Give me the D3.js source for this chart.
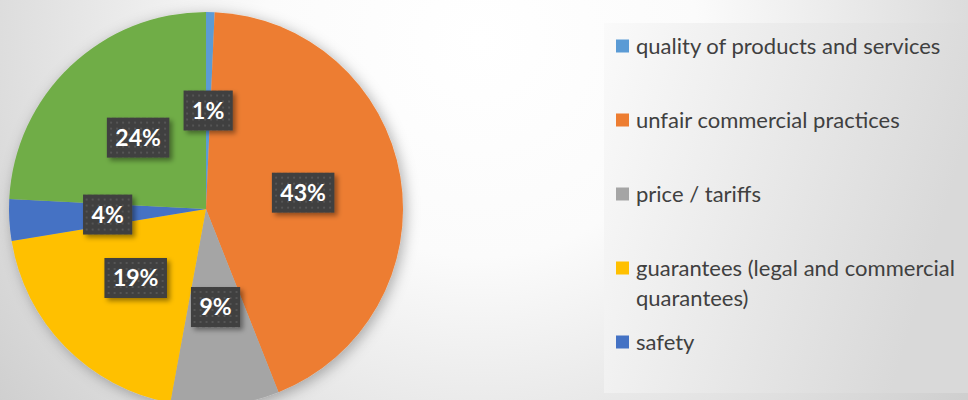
<!DOCTYPE html>
<html><head><meta charset="utf-8">
<script src="https://cdn.jsdelivr.net/npm/d3@7/dist/d3.min.js"></script>
<style>html,body{margin:0;padding:0;overflow:hidden;}svg{display:block;}</style>
</head><body>
<svg id="chart" width="968" height="400"></svg>
<script>
const categories = ["quality of products and services","unfair commercial practices","price / tariffs","guarantees (legal and commercial quarantees)","safety","other"];
const values = [0.7, 43.3, 8.9, 19.5, 3.4, 24.2];
const labels = ["1%","43%","9%","19%","4%","24%"];
const colors = ["#5B9BD5","#ED7D31","#A5A5A5","#FFC000","#4472C4","#70AD47"];

const W = 968, H = 400;
const svg = d3.select("#chart");
const defs = svg.append("defs");

const bg = defs.append("radialGradient").attr("id","bg").attr("gradientUnits","userSpaceOnUse")
  .attr("cx",480).attr("cy",40).attr("r",620);
bg.append("stop").attr("offset","0%").attr("stop-color","#ffffff");
bg.append("stop").attr("offset","35%").attr("stop-color","#fbfbfb");
bg.append("stop").attr("offset","100%").attr("stop-color","#cdcdcd");
svg.append("rect").attr("width",W).attr("height",H).attr("fill","url(#bg)");

const lg = defs.append("linearGradient").attr("id","lg").attr("x1","0").attr("x2","1").attr("y1","0").attr("y2","0.3");
lg.append("stop").attr("offset","0%").attr("stop-color","#fafafa");
lg.append("stop").attr("offset","100%").attr("stop-color","#d9d9d9");

const sh = defs.append("filter").attr("id","shadow").attr("x","-20%").attr("y","-20%").attr("width","140%").attr("height","140%");
sh.append("feDropShadow").attr("dx",3).attr("dy",3).attr("stdDeviation",7).attr("flood-color","#000").attr("flood-opacity",0.3);
const sh2 = defs.append("filter").attr("id","lshadow").attr("x","-30%").attr("y","-30%").attr("width","160%").attr("height","160%");
sh2.append("feDropShadow").attr("dx",3).attr("dy",3).attr("stdDeviation",2.5).attr("flood-color","#000").attr("flood-opacity",0.4);

const pat = defs.append("pattern").attr("id","dots").attr("patternUnits","userSpaceOnUse").attr("width",6).attr("height",6);
pat.append("rect").attr("width",6).attr("height",6).attr("fill","#3f3f3f");
pat.append("rect").attr("x",2).attr("y",2).attr("width",2).attr("height",2).attr("fill","#555555");

// legend panel
const panel = {x:604, y:23, w:W-604, h:370};
svg.append("rect").attr("x",panel.x).attr("y",panel.y).attr("width",panel.w).attr("height",panel.h).attr("fill","url(#lg)");

const cx = 206, cy = 209, R = 197;
const pie = d3.pie().sort(null).value(d => d)(values);
const arc = d3.arc().innerRadius(0).outerRadius(R);
const labelArc = d3.arc().innerRadius(R*0.5).outerRadius(R*0.5);

const g = svg.append("g").attr("transform",`translate(${cx},${cy})`);
g.append("g").attr("filter","url(#shadow)").selectAll("path").data(pie).join("path")
  .attr("d",arc).attr("fill",(d,i)=>colors[i]);

const lab = g.selectAll("g.lab").data(pie).join("g").attr("class","lab")
  .attr("transform",d=>`translate(${labelArc.centroid(d)})`);
lab.each(function(d,i){
  const s = d3.select(this);
  const r = s.append("rect").attr("fill","url(#dots)").attr("filter","url(#lshadow)");
  const t = s.append("text").text(labels[i]).attr("text-anchor","middle").attr("dy","0.36em")
    .attr("font-family","Lato, 'Open Sans', sans-serif").attr("font-weight","bold").attr("font-size",23).attr("fill","#ffffff");
  const w = t.node().getComputedTextLength();
  const bw = w + 17, bh = 40;
  r.attr("x",-bw/2).attr("y",-bh/2).attr("width",bw).attr("height",bh);
});

// legend (entries that fall inside the legend panel)
const rowPitch = 74, row0 = 46;
const legItems = categories.map((c,i)=>({c,i})).filter(d => row0 + d.i*rowPitch < panel.y + panel.h);
const leg = svg.append("g").selectAll("g").data(legItems).join("g")
  .attr("transform",d=>`translate(616,${row0 + d.i*rowPitch})`);
leg.append("rect").attr("x",0).attr("y",-6.5).attr("width",13).attr("height",13).attr("fill",d=>colors[d.i]);
leg.each(function(d){
  const s = d3.select(this);
  const t = s.append("text").attr("x",20).attr("y",0)
    .attr("font-family","Lato, 'Open Sans', sans-serif").attr("font-size",22).attr("fill","#404040");
  const words = d.c.split(" ");
  let line = [];
  let ts = t.append("tspan").attr("x",20).attr("dy","0.35em");
  words.forEach(w=>{
    line.push(w);
    ts.text(line.join(" "));
    if (ts.node().getComputedTextLength() > 335 && line.length > 1) {
      line.pop(); ts.text(line.join(" "));
      line = [w];
      ts = t.append("tspan").attr("x",20).attr("dy","1.36em").text(w);
    }
  });
});
</script>
</body></html>
